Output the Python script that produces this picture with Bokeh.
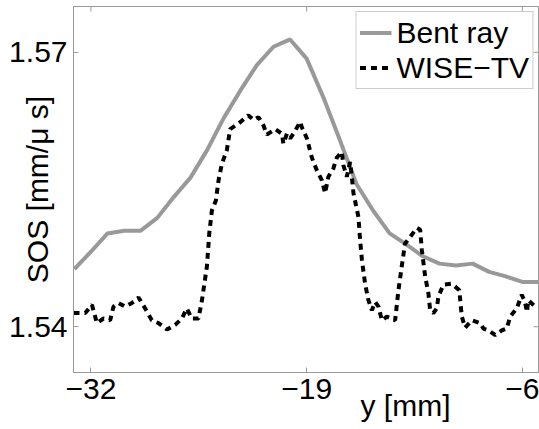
from bokeh.plotting import figure
from bokeh.models import Range1d, FixedTicker, Legend, LegendItem, Title
from bokeh.embed import file_html
from bokeh.resources import INLINE

# ---------------- data ----------------
bent_x = [-33, -32, -31, -30, -29, -28, -27, -26, -25, -24, -23, -22, -21,
          -20, -19, -18, -17, -16, -15, -14, -13, -12, -11, -10, -9, -8,
          -7, -6, -5]
bent_y = [1.5463, 1.5482, 1.5502, 1.5505, 1.5505, 1.5519, 1.5542, 1.5563,
          1.5593, 1.5628, 1.5658, 1.5686, 1.5706, 1.5714, 1.5693, 1.5651,
          1.5604, 1.5556, 1.5527, 1.5502, 1.5490, 1.5477, 1.5469, 1.5467,
          1.5469, 1.5460, 1.5455, 1.5449, 1.5449]

wise_x = [-33.05, -32.34, -31.94, -31.64, -31.24, -30.84, -30.64, -30.34,
          -29.93, -29.53, -29.13, -28.73, -28.33, -27.93, -27.42, -26.92,
          -26.52, -26.22, -25.92, -25.52, -25.31, -25.01, -24.87, -24.71,
          -24.47, -24.31, -24.11, -23.81, -23.61, -23.11, -22.51, -22.20,
          -21.90, -21.60, -21.40, -20.90, -20.49, -20.40, -20.19, -19.99,
          -19.73, -19.39, -19.29, -18.99, -18.69, -18.39, -18.08, -17.89,
          -17.69, -17.39, -17.18, -16.88, -16.78, -16.58, -16.38, -16.28,
          -16.18, -15.88, -15.78, -15.67, -15.48, -15.28, -15.07, -14.87,
          -14.67, -14.47, -14.17, -13.67, -13.47, -13.27, -13.07, -12.77,
          -12.36, -12.16, -12.06, -11.86, -11.66, -11.56, -11.36, -11.16,
          -11.06, -10.76, -10.25, -9.80, -9.71, -9.65, -9.45, -9.05,
          -8.55, -8.35, -8.05, -7.64, -7.24, -6.94, -6.74, -6.34,
          -6.04, -5.84, -5.73, -5.64, -5.23, -5.04]
wise_y = [1.5415, 1.5415, 1.5424, 1.5404, 1.5409, 1.5407, 1.5422, 1.5426,
          1.5422, 1.5426, 1.5432, 1.5420, 1.5407, 1.5404, 1.5397, 1.5402,
          1.5409, 1.5420, 1.5409, 1.5409, 1.5429, 1.5466, 1.5502, 1.5527,
          1.5538, 1.5560, 1.5578, 1.5593, 1.5616, 1.5622, 1.5631, 1.5626,
          1.5629, 1.5620, 1.5610, 1.5616, 1.5611, 1.5600, 1.5611, 1.5606,
          1.5613, 1.5624, 1.5618, 1.5606, 1.5585, 1.5571, 1.5560, 1.5546,
          1.5564, 1.5573, 1.5585, 1.5591, 1.5576, 1.5564, 1.5580, 1.5564,
          1.5546, 1.5520, 1.5495, 1.5473, 1.5447, 1.5429, 1.5418, 1.5427,
          1.5422, 1.5407, 1.5411, 1.5407, 1.5440, 1.5466, 1.5491, 1.5498,
          1.5508, 1.5506, 1.5484, 1.5455, 1.5436, 1.5418, 1.5415, 1.5420,
          1.5433, 1.5446, 1.5447, 1.5440, 1.5422, 1.5411, 1.5399, 1.5407,
          1.5404, 1.5398, 1.5396, 1.5391, 1.5396, 1.5398, 1.5411, 1.5420,
          1.5435, 1.5427, 1.5416, 1.5429, 1.5422, 1.5422]

x_ticks = [-32, -19, -6]
x_tick_labels = ["\u221232", "\u221219", "\u22126"]
y_ticks = [1.54, 1.57]
y_tick_labels = ["1.54", "1.57"]

series_names = ["Bent ray", "WISE\u2212TV"]
x_title = "y [mm]"
y_title = "SOS [mm/\u03bc s]"

# ---------------- style ----------------
FONT = "Liberation Sans"
FS = "30px"
FRAME = "#9a9a9a"
X0, X1 = -33.05, -5.03
Y0, Y1 = 1.535, 1.575

p = figure(width=539, height=429, output_backend="svg", toolbar_location=None,
           x_range=Range1d(X0, X1), y_range=Range1d(Y0, Y1),
           min_border_left=73, min_border_right=1, min_border_top=6,
           min_border_bottom=57)
p.background_fill_color = "white"
p.border_fill_color = "white"
p.outline_line_color = FRAME
p.outline_line_width = 1
p.xgrid.visible = False
p.ygrid.visible = False

r1 = p.line(bent_x, bent_y, line_color="#999999", line_width=4)
r2 = p.line(wise_x, wise_y, line_color="black", line_width=4,
            line_dash="6 5")

# inward ticks on the top and right edges of the box
p.ray(x=x_ticks, y=[Y1] * len(x_ticks), length=5, length_units="screen",
      angle=-90, angle_units="deg", line_color=FRAME, line_width=1)
p.ray(x=[X1] * len(y_ticks), y=y_ticks, length=5, length_units="screen",
      angle=180, angle_units="deg", line_color=FRAME, line_width=1)


def style_axis(ax, ticks, labels, standoff):
    ax.ticker = FixedTicker(ticks=ticks)
    ax.axis_line_color = FRAME
    ax.major_tick_line_color = FRAME
    ax.major_tick_in = 5
    ax.major_tick_out = 0
    ax.minor_tick_in = 0
    ax.minor_tick_out = 0
    ax.minor_tick_line_color = None
    ax.major_label_overrides = dict(zip(ticks, labels))
    ax.major_label_text_font = FONT
    ax.major_label_text_font_size = FS
    ax.major_label_text_color = "black"
    ax.major_label_standoff = standoff


xa = p.xaxis[0]
ya = p.yaxis[0]
style_axis(xa, x_ticks, x_tick_labels, 6)
style_axis(ya, y_ticks, y_tick_labels, 6)

ya.axis_label = y_title
ya.axis_label_text_font = FONT
ya.axis_label_text_font_size = FS
ya.axis_label_text_font_style = "normal"
ya.axis_label_text_color = "black"
ya.axis_label_standoff = -48

xt = Title(text=x_title, align="left", offset=287, standoff=-29,
           vertical_align="bottom", text_font=FONT, text_font_size=FS,
           text_font_style="normal", text_color="black")
p.add_layout(xt, "below")

legend = Legend(items=[LegendItem(label=series_names[0], renderers=[r1]),
                       LegendItem(label=series_names[1], renderers=[r2])],
                location="top_right")
legend.label_text_font = FONT
legend.label_text_font_size = FS
legend.label_text_color = "black"
legend.border_line_color = FRAME
legend.border_line_width = 1
legend.background_fill_color = "white"
legend.background_fill_alpha = 1
legend.glyph_width = 32
legend.glyph_height = 35
legend.label_height = 35
legend.label_standoff = 5
legend.padding = 3
legend.spacing = 0
legend.margin = 5
p.add_layout(legend)

open("out.html", "w").write(file_html(p, INLINE))
